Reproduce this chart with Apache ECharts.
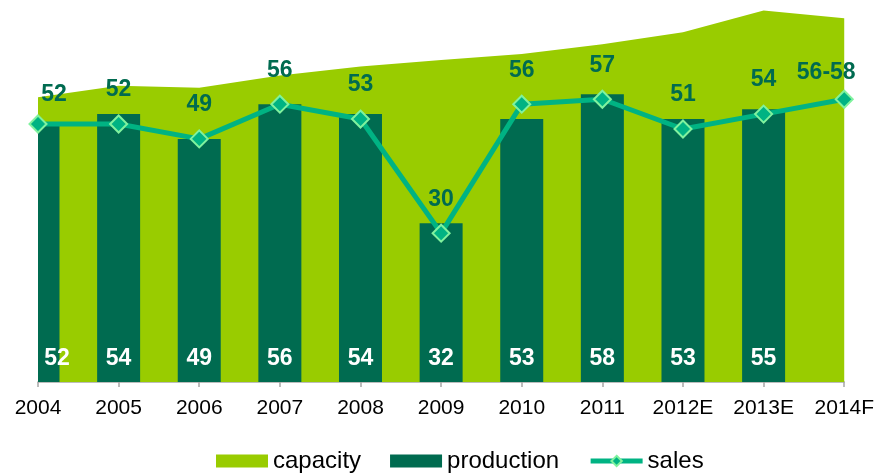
<!DOCTYPE html>
<html>
<head>
<meta charset="utf-8">
<script src="https://cdn.jsdelivr.net/npm/echarts@6/dist/echarts.min.js"></script>
<style>
  html, body { margin: 0; padding: 0; background: #fff; }
  #chart { width: 877px; height: 474px; }
</style>
</head>
<body>
<div id="chart"></div>
<script>
// Years on the horizontal axis
const years = ['2004', '2005', '2006', '2007', '2008', '2009', '2010', '2011', '2012E', '2013E', '2014F'];
// Capacity (area), production (bars) and sales (line)
const capacity = [57.4, 59.7, 59.3, 61.8, 63.6, 64.9, 66.1, 68.1, 70.5, 74.9, 73.3];
const production = [52, 54, 49, 56, 54, 32, 53, 58, 53, 55, null];
const sales = [52, 52, 49, 56, 53, 30, 56, 57, 51, 54, 57];
const salesText = ['52', '52', '49', '56', '53', '30', '56', '57', '51', '54', '56-58'];

const FONT = '"Liberation Sans", Arial, sans-serif';
const LIME = '#99CC00';
const DARK = '#006B50';
const TEAL = '#00B383';
const BAR_WIDTH = 43;

const chart = echarts.init(document.getElementById('chart'), null, { renderer: 'canvas' });

// Bars sit on the ticks (no boundary gap), so each one is cut to the plot area
function renderProductionBar(params, api) {
  const v = api.value(1);
  if (v == null || isNaN(v)) return null;
  const i = api.value(0);
  const top = api.coord([i, v]);
  const base = api.coord([i, 0]);
  const cs = params.coordSys;
  const rect = echarts.graphic.clipRectByRect(
    { x: top[0] - BAR_WIDTH / 2, y: top[1], width: BAR_WIDTH, height: base[1] - top[1] },
    { x: cs.x, y: cs.y, width: cs.width, height: cs.height }
  );
  if (!rect) return null;
  // the first label is nudged right so it stays readable on the cut bar
  const dx = params.dataIndex === 0 ? 19 : 0;
  return {
    type: 'group',
    children: [
      {
        type: 'rect',
        shape: rect,
        style: { fill: DARK }
      },
      {
        type: 'text',
        style: {
          text: String(v),
          x: top[0] + dx,
          y: base[1] - 12,
          align: 'center',
          verticalAlign: 'bottom',
          fill: '#fff',
          font: 'bold 23px ' + FONT
        }
      }
    ]
  };
}

const salesData = sales.map((v, i) => {
  const item = { value: v };
  if (i === 0) item.label = { offset: [16, 5] };
  if (i === years.length - 1) item.label = { offset: [-18, 7] };
  return item;
});

chart.setOption({
  animation: false,
  textStyle: { fontFamily: FONT },
  grid: { left: 38, right: 32, top: 0, bottom: 92, containLabel: false },
  legend: {
    left: 216,
    top: 449,
    padding: 0,
    itemWidth: 52,
    itemHeight: 13,
    itemGap: 29,
    textStyle: { fontSize: 24, color: '#000', fontFamily: FONT },
    data: [
      { name: 'capacity', icon: 'rect', itemStyle: { color: LIME } },
      { name: 'production', icon: 'rect', itemStyle: { color: DARK } },
      {
        name: 'sales',
        lineStyle: { width: 5, color: TEAL },
        itemStyle: { color: TEAL, borderColor: '#80F29E', borderWidth: 2 }
      }
    ]
  },
  xAxis: {
    type: 'category',
    data: years,
    boundaryGap: false,
    axisLine: { lineStyle: { color: '#A6A6A6', width: 1.5 } },
    axisTick: { show: true, length: 5, lineStyle: { color: '#A6A6A6', width: 1.5 } },
    axisLabel: { color: '#000', fontSize: 21, margin: 16, fontFamily: FONT },
    splitLine: { show: false }
  },
  yAxis: {
    type: 'value',
    min: 0,
    max: 77,
    show: false,
    splitLine: { show: false }
  },
  series: [
    {
      name: 'capacity',
      type: 'line',
      data: capacity,
      symbol: 'none',
      lineStyle: { width: 0, color: LIME },
      itemStyle: { color: LIME },
      areaStyle: { color: LIME, opacity: 1 },
      z: 1
    },
    {
      name: 'production',
      type: 'custom',
      data: production.map((v, i) => [i, v]),
      encode: { x: 0, y: 1 },
      renderItem: renderProductionBar,
      itemStyle: { color: DARK },
      z: 2
    },
    {
      name: 'sales',
      type: 'line',
      data: salesData,
      symbol: 'diamond',
      symbolSize: 17,
      lineStyle: { width: 5, color: TEAL },
      itemStyle: { color: TEAL, borderColor: '#80F29E', borderWidth: 2 },
      label: {
        show: true,
        position: 'top',
        distance: 13,
        color: DARK,
        fontSize: 23,
        fontWeight: 'bold',
        fontFamily: FONT,
        formatter: p => salesText[p.dataIndex]
      },
      clip: false,
      z: 3
    }
  ]
});
</script>
</body>
</html>
